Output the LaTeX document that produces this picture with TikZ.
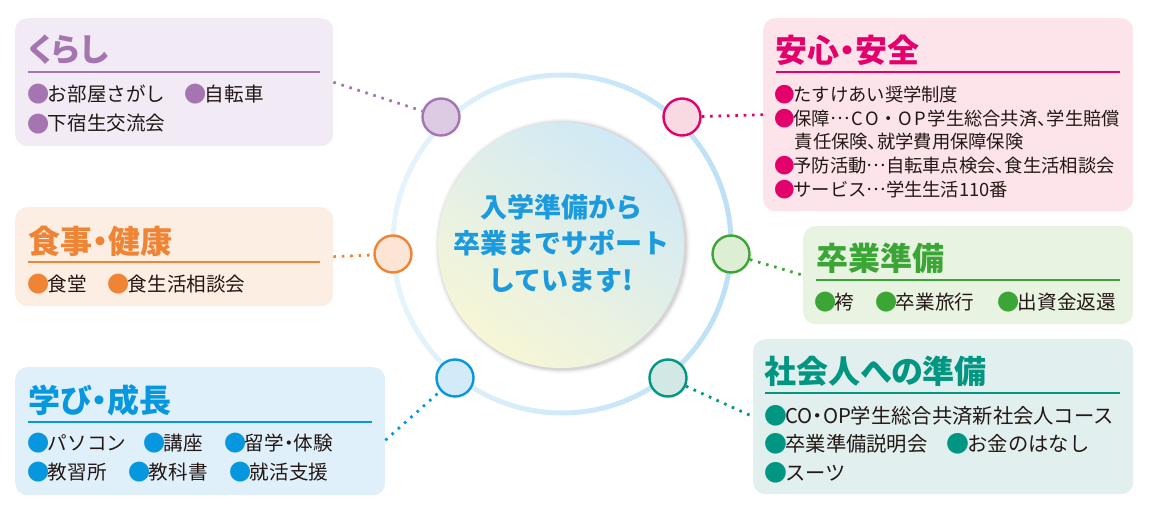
\documentclass[tikz,border=0pt]{standalone}
\usepackage{fontspec}
\newfontfamily\jp{Noto Sans CJK JP}
\newfontfamily\jpt[RawFeature=+palt]{Noto Sans CJK JP}
\newfontfamily\jpp[RawFeature=+palt]{Noto Sans CJK JP}
\newcommand\nd{{\jpp ・}}
\newcommand\tn{{\jpp 、}}
\newcommand\el{\makebox[1.05em][c]{\raisebox{0.3em}{…}}}
\newcommand\fw[1]{\makebox[0.82em][c]{#1}}
\newcommand\bul[1]{\kern-0.08em\textcolor{#1}{\scalebox{1.13}{\raisebox{-0.06em}{●}}}\kern-0.1em}
\definecolor{txt}{HTML}{231815}
\definecolor{cpur}{HTML}{A575B1}
\definecolor{bpur}{HTML}{F2EBF6}
\definecolor{fpur}{HTML}{DCCBE3}
\definecolor{cpnk}{HTML}{E3006B}
\definecolor{bpnk}{HTML}{FCE4EA}
\definecolor{fpnk}{HTML}{F9D9E2}
\definecolor{corg}{HTML}{EE8434}
\definecolor{borg}{HTML}{FDEEE3}
\definecolor{forg}{HTML}{FDE5D5}
\definecolor{cgrn}{HTML}{3BA635}
\definecolor{bgrn}{HTML}{E9F3E1}
\definecolor{fgrn}{HTML}{DEEED5}
\definecolor{cblu}{HTML}{0797DE}
\definecolor{bblu}{HTML}{DFF0FB}
\definecolor{fblu}{HTML}{D3EAF9}
\definecolor{ctel}{HTML}{009681}
\definecolor{btel}{HTML}{E1EFEE}
\definecolor{ftel}{HTML}{D2E8E4}
\definecolor{ctr}{HTML}{1C9ADE}
\definecolor{ringl}{HTML}{E6F4FC}
\definecolor{ringr}{HTML}{BCE0F6}
\definecolor{shb}{HTML}{D0E9F6}
\definecolor{shy}{HTML}{F7F6D6}
\tikzset{
  panel/.style={rectangle, rounded corners=12pt, anchor=north west, inner sep=0pt},
  dot/.style={circle, minimum size=37pt, inner sep=0pt, line width=2.4pt},
  ttl/.style={anchor=base west, inner sep=0pt, font=\jpt\bfseries\fontsize{32}{32}\selectfont},
  itm/.style={anchor=base west, inner sep=0pt, text=txt, font=\jp\fontsize{19.6}{19.6}\selectfont},
  itms/.style={itm, font=\jp\fontsize{18.3}{18.3}\selectfont},
  itml/.style={itm, font=\jp\fontsize{20.3}{20.3}\selectfont},
  uline/.style={line width=2pt},
  link/.style={line width=2.8pt, dash pattern=on 2.6pt off 5.8pt},
  ctxt/.style={anchor=base, inner sep=0pt, text=ctr, font=\jp\bfseries\fontsize{27}{27}\selectfont}
}
\begin{document}
\begin{tikzpicture}[x=1pt,y=-1pt]
\useasboundingbox (0,0) rectangle (1153,508);
% ring
\shade[left color=ringl, right color=ringr, even odd rule] (562,244) circle (171.5pt) (562,244) circle (166.5pt);
% inner circle shadow
\foreach \r/\o in {128/0.015,127/0.025,126/0.035,125/0.045,124.3/0.05}
  \fill[black, opacity=\o] (562.5,246) circle (\r pt);
\shade[top color=shb, bottom color=shy, shading angle=-35] (561,245) circle (123pt);
\node[ctxt] (l1) at (561,217) {入学準備から};
\node[ctxt] (l2) at (561,253) {卒業までサポート};
\node[ctxt] (l3) at (561,290) {しています!};
% panels
\node[panel, fill=bpur, minimum width=318pt, minimum height=128pt] (kur) at (15,18) {};
\node[panel, fill=bpnk, minimum width=370pt, minimum height=193pt] (ans) at (763,18) {};
\node[panel, fill=borg, minimum width=318pt, minimum height=99pt] (sho) at (15,207) {};
\node[panel, fill=bgrn, minimum width=330pt, minimum height=98pt] (sot) at (803,226) {};
\node[panel, fill=bblu, minimum width=370pt, minimum height=128pt] (man) at (15,367) {};
\node[panel, fill=btel, minimum width=380pt, minimum height=155pt] (sha) at (753,339) {};
% small circles
\node[dot, draw=cpur, fill=fpur] (c1) at (441,117) {};
\node[dot, draw=cpnk, fill=fpnk] (c2) at (682,117) {};
\node[dot, draw=corg, fill=forg] (c3) at (393,254) {};
\node[dot, draw=cgrn, fill=fgrn] (c4) at (731,254) {};
\node[dot, draw=cblu, fill=fblu] (c5) at (455,378) {};
\node[dot, draw=ctel, fill=ftel] (c6) at (668,378) {};
% links
\draw[link, cpur] (kur.east) -- (c1);
\draw[link, cpnk] (c2) -- (ans.west);
\draw[link, corg] (sho.east) -- (c3);
\draw[link, cgrn] (c4) -- (sot.west);
\draw[link, cblu] ([yshift=-9pt]man.east) -- (c5);
\draw[link, ctel] (c6) -- (sha.west);
% titles + underlines
\node[ttl, text=cpur] (t1) at (28,62) {くらし};
\draw[uline, cpur] (28,72.5) -- (320,72.5);
\node[ttl, text=cpnk] (t2) at (775,63) {安心・安全};
\draw[uline, cpnk] (776,72.5) -- (1120,72.5);
\node[ttl, text=corg] (t3) at (28,253) {食事・健康};
\draw[uline, corg] (28,262) -- (320,262);
\node[ttl, text=cgrn] (t4) at (816,270) {卒業準備};
\draw[uline, cgrn] (816,280) -- (1120,280);
\node[ttl, text=cblu] (t5) at (28,412) {学び・成長};
\draw[uline, cblu] (28,422) -- (372,422);
\node[ttl, text=ctel] (t6) at (764,383) {社会人への準備};
\draw[uline, ctel] (765,393) -- (1120,393);
% items: kurashi
\node[itm] (k1) at (29,101.5) {\bul{cpur}お部屋さがし};
\node[itm] (k2) at (186,101.5) {\bul{cpur}自転車};
\node[itm] (k3) at (29,131) {\bul{cpur}下宿生交流会};
% anshin
\node[itms] (a1) at (776,101.5) {\bul{cpnk}たすけあい奨学制度};
\node[itms] (a2) at (776,125) {\bul{cpnk}保障\el\fw{C}\fw{O}・\fw{O}\fw{P}学生総合共済\tn 学生賠償};
\node[itms] (a3) at (794.6,148) {責任保険\tn 就学費用保障保険};
\node[itms] (a4) at (776,172) {\bul{cpnk}予防活動\el 自転車点検会\tn 食生活相談会};
\node[itms] (a5) at (776,196) {\bul{cpnk}サービス\el 学生生活110番};
% shokuji
\node[itm] (s1) at (29,291) {\bul{corg}食堂};
\node[itm] (s2) at (109,291) {\bul{corg}食生活相談会};
% sotsugyo
\node[itm] (g1) at (816,309) {\bul{cgrn}袴};
\node[itm] (g2) at (877,309) {\bul{cgrn}卒業旅行};
\node[itm] (g3) at (999,309) {\bul{cgrn}出資金返還};
% manabi
\node[itm] (m1) at (29,450) {\bul{cblu}パソコン};
\node[itm] (m2) at (145,450) {\bul{cblu}講座};
\node[itm] (m3) at (226,450) {\bul{cblu}留学\nd 体験};
\node[itm] (m4) at (29,479) {\bul{cblu}教習所};
\node[itm] (m5) at (130,479) {\bul{cblu}教科書};
\node[itm] (m6) at (231,479) {\bul{cblu}就活支援};
% shakaijin
\node[itml] (h1) at (766,423.5) {\bul{ctel}CO\nd OP学生総合共済新社会人コース};
\node[itml] (h2) at (766,451.5) {\bul{ctel}卒業準備説明会};
\node[itml] (h3) at (948,451.5) {\bul{ctel}お金のはなし};
\node[itml] (h4) at (766,480.5) {\bul{ctel}スーツ};
\end{tikzpicture}
\end{document}
